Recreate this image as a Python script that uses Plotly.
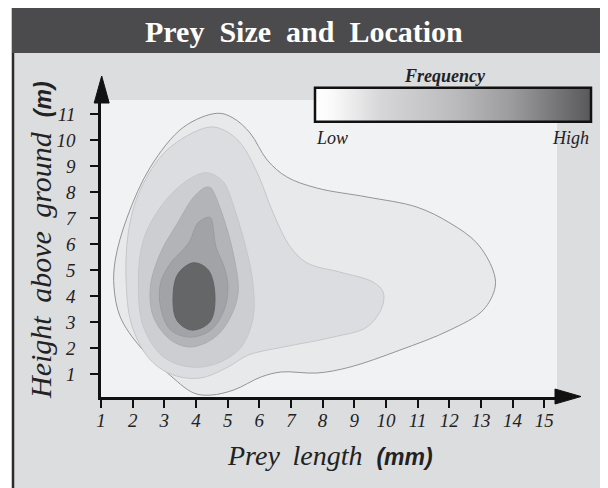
import plotly.graph_objects as go

# ---------------- data ----------------
x_ticks = list(range(1, 16))
y_ticks = list(range(1, 12))

# density contour outlines, prey length (mm) vs height above ground (m)
level1_x = [4.68, 3.61, 2.56, 1.83, 1.45, 1.41, 1.61, 2.24, 3.10, 3.93, 4.47, 5.2, 6.06, 6.7, 7.83, 8.87,
            10.44, 12.02, 13.07, 13.45, 13.38, 12.87, 12.02, 10.98, 9.40, 7.83, 6.87, 6.25, 5.71, 5.17]
level1_y = [11.04, 10.51, 8.97, 7.05, 5.4, 4.36, 3.2, 2.05, 1.05, 0.28, 0.2, 0.4, 0.9, 1.09, 1.05, 1.28,
            1.93, 2.7, 3.47, 4.36, 5.01, 6.05, 6.82, 7.43, 7.82, 8.16, 8.59, 9.24, 10.28, 10.86]

level2_x = [4.37, 3.09, 2.24, 1.86, 1.80, 1.99, 2.56, 3.29, 4.15, 5.01, 5.65, 6.76, 8.33, 9.40, 9.88, 9.91,
            9.59, 8.55, 7.51, 6.98, 6.44, 5.94, 5.40, 4.87]
level2_y = [10.5, 9.63, 8.09, 6.43, 4.36, 2.82, 1.55, 0.97, 0.86, 1.28, 1.74, 2.05, 2.43, 2.82, 3.59, 4.17,
            4.55, 4.93, 5.28, 5.9, 7.2, 8.74, 9.9, 10.4]

level3_x = [4.26, 3.61, 2.88, 2.34, 2.18, 2.34, 2.97, 3.83, 4.69, 5.43, 5.81, 5.81, 5.65, 5.2, 4.89, 4.57]
level3_y = [8.75, 8.36, 7.43, 6.17, 4.51, 2.82, 1.67, 1.28, 1.43, 2.05, 3.2, 4.36, 5.51, 7.43, 8.36, 8.67]

level4_x = [4.31, 3.93, 3.42, 2.88, 2.56, 2.66, 3.2, 3.83, 4.57, 5.04, 5.33, 5.2, 4.89, 4.57, 4.47]
level4_y = [8.19, 7.82, 6.82, 5.67, 4.36, 3.2, 2.32, 2.05, 2.4, 3.09, 4.13, 5.51, 6.94, 7.97, 8.17]

level5_x = [4.37, 4.06, 3.77, 3.2, 2.88, 2.88, 3.2, 3.83, 4.47, 4.89, 5.01, 4.89, 4.63, 4.54, 4.47]
level5_y = [7.04, 6.82, 6.05, 5.28, 4.51, 3.59, 2.7, 2.43, 2.7, 3.47, 4.36, 5.13, 5.9, 6.67, 7.01]

level6_x = [3.92, 3.44, 3.28, 3.39, 3.86, 4.44, 4.60, 4.39]
level6_y = [5.29, 4.88, 4.12, 3.09, 2.70, 3.02, 3.98, 5.01]

levels = [(level1_x, level1_y), (level2_x, level2_y), (level3_x, level3_y),
          (level4_x, level4_y), (level5_x, level5_y), (level6_x, level6_y)]
level_fill = ["#e8e9eb", "#dcdde0", "#cdced1", "#b3b4b7", "#a2a3a6", "#656668"]
level_line = ["#8a8a8c", "#c2c3c5", "#c4c5c8", "#a9aaad", "#999a9d", "#5e5f61"]

frequency_range = [0, 1]
freq_scale = [[0, "#ffffff"], [0.06, "#fafafa"], [0.24, "#d6d6d8"], [0.5, "#bcbcbe"],
              [0.72, "#9a9a9c"], [0.96, "#626264"], [1, "#58585a"]]

# ---------------- layout geometry (page pixel coordinates) ----------------
OFF = 8                      # default body margin of the html page
W, H = 608 - OFF, 488 - OFF  # figure size that fits the window
L, R, T, B = 101, 557, 100, 397


def px(xp):
    return (xp - L) / (R - L)


def py(yp):
    return (B - yp) / (B - T)


SERIF = "Liberation Serif, Times New Roman, serif"
SANS = "Liberation Sans, Arial, sans-serif"

fig = go.Figure()

for (xs, ys), fc, lc in zip(levels, level_fill, level_line):
    fig.add_trace(go.Scatter(
        x=xs + xs[:1], y=ys + ys[:1], mode="lines", fill="toself",
        fillcolor=fc, line=dict(color=lc, width=0.9, shape="spline", smoothing=1.0),
        hoverinfo="skip", showlegend=False))

# colour scale host (legend of frequency)
fig.add_trace(go.Scatter(
    x=[None, None], y=[None, None], mode="markers", showlegend=False, hoverinfo="skip",
    marker=dict(color=frequency_range, cmin=0, cmax=1, colorscale=freq_scale, size=1,
                showscale=True,
                colorbar=dict(orientation="h", x=px(315), xanchor="left", y=py(106.5),
                              yanchor="middle", len=(591 - 315) / (R - L), lenmode="fraction",
                              thickness=34, outlinewidth=2.5, outlinecolor="#111111",
                              xpad=0, ypad=0, showticklabels=False, ticks="",
                              bgcolor="rgba(0,0,0,0)"))))

shapes = [
    # grey panel with border
    dict(type="rect", xref="paper", yref="paper", x0=px(13), x1=px(605), y0=py(7), y1=py(500),
         fillcolor="#dcdddf", line=dict(color="#2b2b2b", width=2.5), layer="below"),
    # title bar
    dict(type="rect", xref="paper", yref="paper", x0=px(12), x1=px(606), y0=py(6), y1=py(53),
         fillcolor="#4b4b4d", line=dict(width=0), layer="below"),
    # light plotting area
    dict(type="rect", xref="paper", yref="paper", x0=px(101), x1=px(557), y0=py(100), y1=py(397),
         fillcolor="#f1f2f4", line=dict(width=0), layer="below"),
    # y-axis arrow
    dict(type="path", xref="paper", yref="paper",
         path=f"M {px(94.2)} {py(103)} L {px(101.7)} {py(76)} L {px(109.2)} {py(103)} Z",
         fillcolor="#111111", line=dict(color="#111111", width=1)),
    # x-axis arrow
    dict(type="path", xref="paper", yref="paper",
         path=f"M {px(555)} {py(389)} L {px(581)} {py(396.5)} L {px(555)} {py(404)} Z",
         fillcolor="#111111", line=dict(color="#111111", width=1)),
]

nb = "\u00a0"
thin = "\u2009"
annotations = [
    dict(text=f"<b>Prey{nb}{nb}Size{nb}{nb}and{nb}{nb}Location</b>", x=px(304), y=py(31),
         xref="paper", yref="paper", showarrow=False, xanchor="center", yanchor="middle",
         font=dict(family=SERIF, size=30, color="#ffffff")),
    dict(text=f"Height{nb}{thin}above{nb}{thin}ground{nb}{nb}"
              f"<span style='font-family:{SANS};font-size:23px'><b>(m)</b></span>",
         x=px(40), y=py(240), xref="paper", yref="paper", showarrow=False, textangle=-90,
         xanchor="center", yanchor="middle",
         font=dict(family=SERIF, size=30, color="#222222", style="italic")),
    dict(text=f"Prey{nb}{thin}length{nb}{nb}"
              f"<span style='font-family:{SANS};font-size:23px'><b>(mm)</b></span>",
         x=px(330), y=py(455), xref="paper", yref="paper", showarrow=False,
         xanchor="center", yanchor="middle",
         font=dict(family=SERIF, size=28, color="#222222", style="italic")),
    dict(text="<b>Frequency</b>", x=px(444.5), y=py(76), xref="paper", yref="paper",
         showarrow=False, xanchor="center", yanchor="middle",
         font=dict(family=SERIF, size=18, color="#222222", style="italic")),
    dict(text="Low", x=px(314), y=py(138), xref="paper", yref="paper", showarrow=False,
         xanchor="left", yanchor="middle",
         font=dict(family=SERIF, size=18, color="#222222", style="italic")),
    dict(text="High", x=px(591), y=py(138), xref="paper", yref="paper", showarrow=False,
         xanchor="right", yanchor="middle",
         font=dict(family=SERIF, size=18, color="#222222", style="italic")),
]

fig.update_layout(
    width=W, height=H,
    margin=dict(l=L - OFF, r=608 - R, t=T - OFF, b=488 - B, pad=0),
    paper_bgcolor="#ffffff", plot_bgcolor="#f1f2f4",
    shapes=shapes, annotations=annotations, showlegend=False,
    xaxis=dict(range=[1.0, 1 + (R - L) / 31.66], tickmode="array", tickvals=x_ticks,
               ticktext=[str(v) for v in x_ticks], showgrid=False, zeroline=False,
               showline=True, linecolor="#111111", linewidth=2.5,
               ticks="outside", ticklen=8, tickwidth=2, tickcolor="#111111",
               ticklabelstandoff=-4,
               tickfont=dict(family=SERIF, size=19, color="#222222", style="italic")),
    yaxis=dict(range=[(400.3 - B) / 26.0, (400.3 - T) / 26.0], tickmode="array", tickvals=y_ticks,
               ticktext=[str(v) for v in y_ticks], showgrid=False, zeroline=False,
               showline=True, linecolor="#111111", linewidth=2.5,
               ticks="outside", ticklen=8, tickwidth=2, tickcolor="#111111",
               ticklabelstandoff=11,
               tickfont=dict(family=SERIF, size=19, color="#222222", style="italic")),
)

fig.write_html("out.html")
